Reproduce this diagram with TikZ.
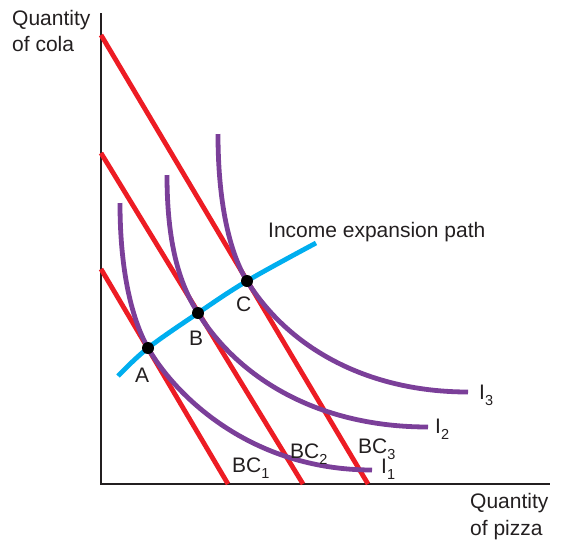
\documentclass[tikz,border=0pt]{standalone}
\usepackage{fontspec}
\setmainfont{Liberation Sans}
\definecolor{bcred}{HTML}{ED1C24}
\definecolor{icpurple}{HTML}{7B3F99}
\definecolor{pathblue}{HTML}{00AEEF}
\definecolor{ink}{HTML}{231F20}
\newcommand{\lowidx}[1]{\raisebox{-0.32em}{\fontsize{14.5}{14.5}\selectfont #1}}
\tikzset{
  lbl/.style={inner sep=0pt, anchor=base west, text=ink, font=\fontsize{21}{26}\selectfont},
  bcline/.style={draw=bcred, line width=4.8pt},
  icurve/.style={draw=icpurple, line width=4.8pt},
  epath/.style={draw=pathblue, line width=4.8pt},
  axisline/.style={draw=ink, line width=1.3pt},
  dotpt/.style={circle, fill=black, inner sep=0pt, minimum size=12pt}
}
\begin{document}
\begin{tikzpicture}[x=1pt,y=-1pt]
\useasboundingbox (0,0) rectangle (562,539);
% axes
\coordinate (ytop) at (101,13);
\coordinate (org) at (101,484);
\coordinate (xend) at (550,484);
\draw[axisline] (ytop) -- (org) -- (xend);
% budget lines
\coordinate (bc1a) at (101,269); \coordinate (bc1b) at (228,484);
\coordinate (bc2a) at (101,153); \coordinate (bc2b) at (303,484);
\coordinate (bc3a) at (101,35);  \coordinate (bc3b) at (368,484);
\draw[bcline] (bc1a) -- (bc1b);
\draw[bcline] (bc2a) -- (bc2b);
\draw[bcline] (bc3a) -- (bc3b);
% tangency points
\coordinate (pA) at (148,348);
\coordinate (pB) at (198,313);
\coordinate (pC) at (247,281);
% indifference curves
\coordinate (i1s) at (120,203); \coordinate (i1e) at (372,470);
\coordinate (i2s) at (167,175); \coordinate (i2e) at (428,427);
\coordinate (i3s) at (218,134); \coordinate (i3e) at (468,392);
\draw[icurve] (i1s) .. controls (120,280) and (135,325) .. (pA) .. controls (175,395) and (250,470) .. (i1e);
\draw[icurve] (i2s) .. controls (167,250) and (182,288) .. (pB) .. controls (240,380) and (320,427) .. (i2e);
\draw[icurve] (i3s) .. controls (218,210) and (232,257) .. (pC) .. controls (290,350) and (370,392) .. (i3e);
% expansion path
\coordinate (eps) at (118,376); \coordinate (epe) at (316,243);
\draw[epath] plot[smooth, tension=0.6] coordinates {(eps) (pA) (pB) (pC) (epe)};
% points
\node[dotpt] (A) at (pA) {};
\node[dotpt] (B) at (pB) {};
\node[dotpt] (C) at (pC) {};
% labels
\node[lbl] (lA) at (135,382) {A};
\node[lbl] (lB) at (189,345) {B};
\node[lbl] (lC) at (236,311) {C};
\node[lbl] (lpath) at (268,237) {Income expansion path};
\node[lbl] (lbc1) at (232,472) {BC\lowidx{1}};
\node[lbl] (lbc2) at (290,458) {BC\lowidx{2}};
\node[lbl] (lbc3) at (358,453) {BC\lowidx{3}};
\node[lbl] (li1) at (381,473) {I\lowidx{1}};
\node[lbl] (li2) at (435,433) {I\lowidx{2}};
\node[lbl] (li3) at (479,399) {I\lowidx{3}};
\node[lbl] (ylab1) at (12,25) {Quantity};
\node[lbl] (ylab2) at (12,51) {of cola};
\node[lbl] (xlab1) at (470,508) {Quantity};
\node[lbl] (xlab2) at (470,535) {of pizza};
\end{tikzpicture}
\end{document}
